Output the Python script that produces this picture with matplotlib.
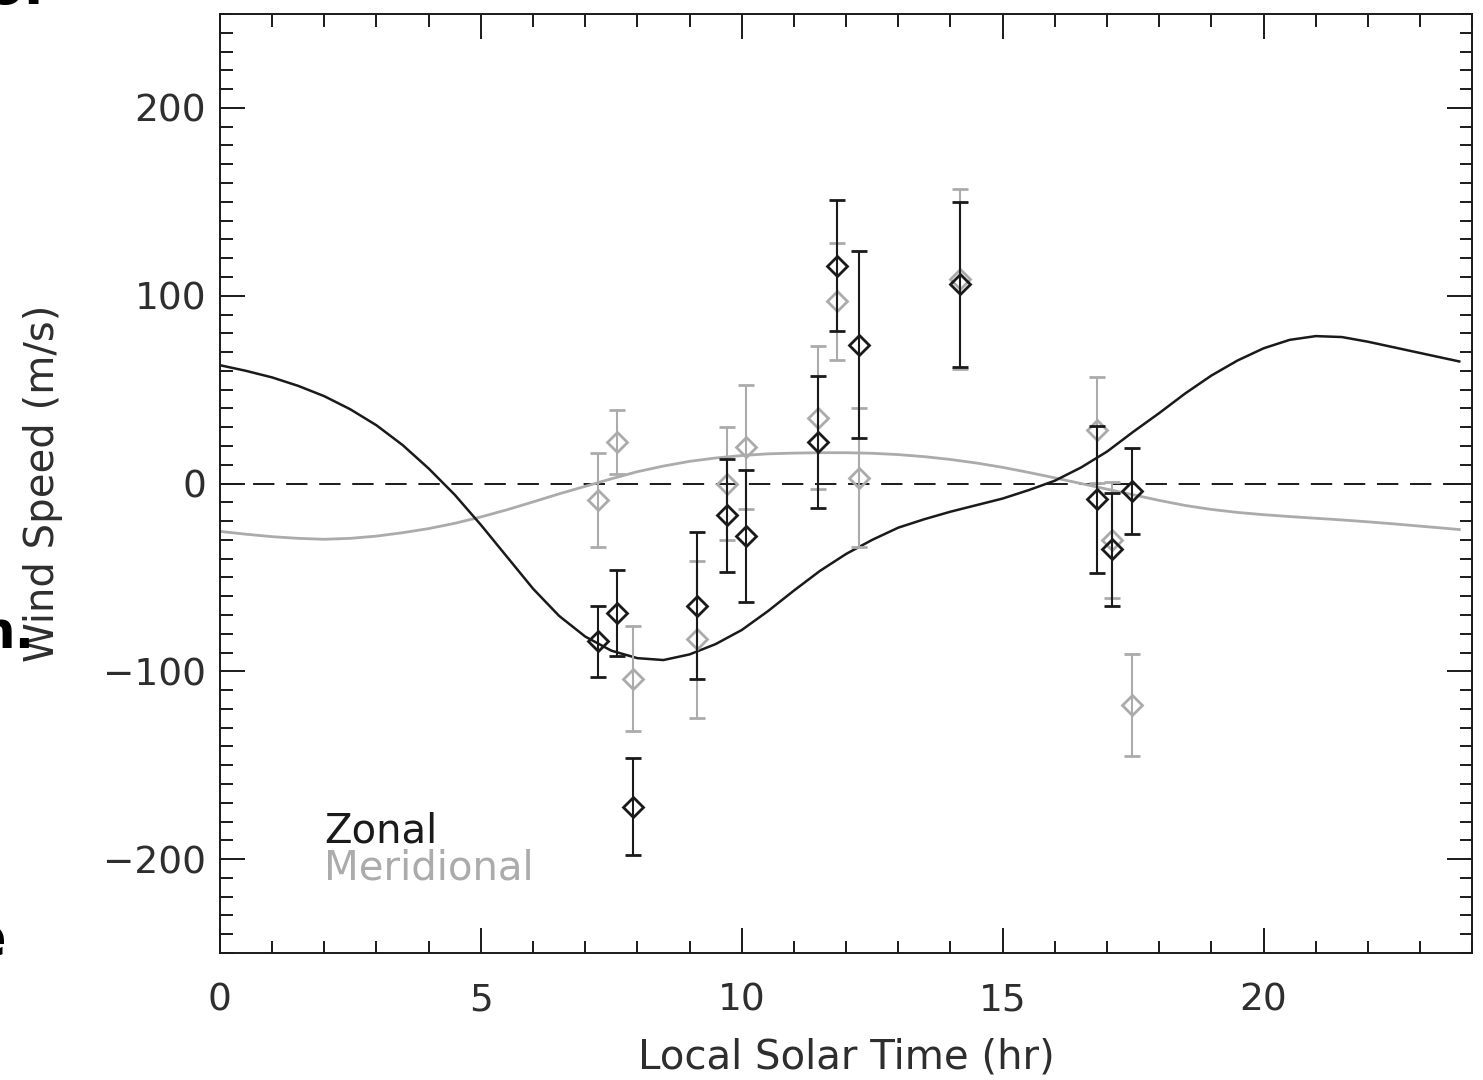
import numpy as np
import matplotlib
matplotlib.use("Agg")
import matplotlib.pyplot as plt
from matplotlib.ticker import MultipleLocator

# observed winds (local solar time, m/s)
lst = [7.24, 7.6, 7.91, 9.14, 9.71, 10.08, 11.46, 11.82, 12.24, 14.18, 16.8, 17.1, 17.47]
zonal = [-84, -69, -172, -65, -17, -28, 22, 116, 74, 106, -8.5, -35, -4]
zonal_err = [19, 23, 26, 39, 30, 35, 35, 35, 50, 44, 39, 30, 23]
merid = [-9, 22, -104, -83, 0, 19.5, 35, 97, 3, 109, 28.5, -30, -118]
merid_err = [25, 17, 28, 42, 30, 33, 38, 31, 37, 48, 28, 31, 27]

# model curves
model_lst = [0, 0.5, 1, 1.5, 2, 2.5, 3, 3.5, 4, 4.5, 5, 5.5, 6, 6.5, 7, 7.5, 8, 8.5,
             9, 9.5, 10, 10.5, 11, 11.5, 12, 12.5, 13, 13.5, 14, 14.5, 15, 15.5, 16,
             16.5, 17, 17.5, 18, 18.5, 19, 19.5, 20, 20.5, 21, 21.5, 22, 22.5, 23,
             23.5, 23.75]
model_zonal = [63, 60, 56.5, 52, 46.5, 39.5, 31, 20.5, 8, -6, -22, -39, -56, -70.5,
               -81.5, -89, -93, -94, -91, -85.5, -78, -68, -57, -46.5, -37.5, -30,
               -23.5, -19, -15, -11.5, -8, -3.5, 1.5, 8.5, 17, 27.5, 37.5, 48, 57.5,
               65.5, 72, 76.5, 78.5, 78, 75.5, 72.5, 69.5, 66.5, 65]
model_merid = [-25.5, -27, -28.3, -29.2, -29.7, -29.2, -28, -26.2, -24, -21.2, -17.8,
               -14, -9.8, -5.5, -1.5, 2.5, 6.3, 9.3, 11.8, 13.6, 14.9, 15.8, 16.2,
               16.4, 16.4, 16.1, 15.4, 14.3, 12.8, 10.9, 8.6, 5.9, 3, 0, -3, -6, -9,
               -11.7, -13.8, -15.4, -16.6, -17.6, -18.5, -19.4, -20.4, -21.5, -22.7,
               -23.9, -24.5]

black = "#1a1a1a"
gray = "#ababab"
txt = "#2e2e2e"

plt.rcParams['font.family'] = ['DejaVu Sans']

fig = plt.figure(figsize=(14.83, 10.8), dpi=100)
ax = fig.add_axes([0.1483, 0.1176, 0.8445, 0.8694])

ax.plot(model_lst, model_merid, color=gray, lw=2.0, zorder=2)
ax.plot(model_lst, model_zonal, color=black, lw=1.8, zorder=2)
ax.axhline(0, color=black, lw=1.4, dashes=(11, 6), zorder=1)

ax.errorbar(lst, merid, yerr=merid_err, fmt='D', ms=10, mfc='none', mec=gray, mew=2,
            ecolor=gray, elinewidth=1.5, capsize=5.5, capthick=1.5, zorder=3)
ax.errorbar(lst, zonal, yerr=zonal_err, fmt='D', ms=10, mfc='none', mec=black, mew=2,
            ecolor=black, elinewidth=1.5, capsize=5.5, capthick=1.5, zorder=4)

ax.set_xlim(0, 24)
ax.set_ylim(-250, 250)
ax.xaxis.set_major_locator(MultipleLocator(5))
ax.xaxis.set_minor_locator(MultipleLocator(1))
ax.yaxis.set_major_locator(MultipleLocator(100))
ax.yaxis.set_minor_locator(MultipleLocator(10))
ax.tick_params(which='both', direction='in', top=True, right=True, width=1.4,
               colors=black, labelsize=27, labelcolor=txt)
ax.tick_params(which='major', length=18)
ax.tick_params(which='minor', length=9)
ax.tick_params(axis='x', which='major', pad=21)
ax.tick_params(axis='y', which='major', pad=10)
for s in ax.spines.values():
    s.set_linewidth(1.4)
    s.set_color(black)

ax.set_xlabel("Local Solar Time (hr)", fontsize=29, color=txt)
ax.set_ylabel("Wind Speed (m/s)", fontsize=29, color=txt)
ax.xaxis.set_label_coords(0.5, -0.09)
ax.yaxis.set_label_coords(-0.125, 0.5)

ax.text(2.0, -191, "Zonal", fontsize=29, color=black)
ax.text(2.0, -211, "Meridional", fontsize=29, color=gray)

# cropped fragments of neighbouring text at the left edge
fig.text(-0.01, 0.996, "o.", fontsize=40, fontweight='bold', color='black')
fig.text(-0.0145, 0.4, "n.", fontsize=37, fontweight='bold', color='black')
fig.text(-0.021, 0.116, "e", fontsize=40, fontweight='bold', color='black')

fig.savefig("out.png", dpi=100)
